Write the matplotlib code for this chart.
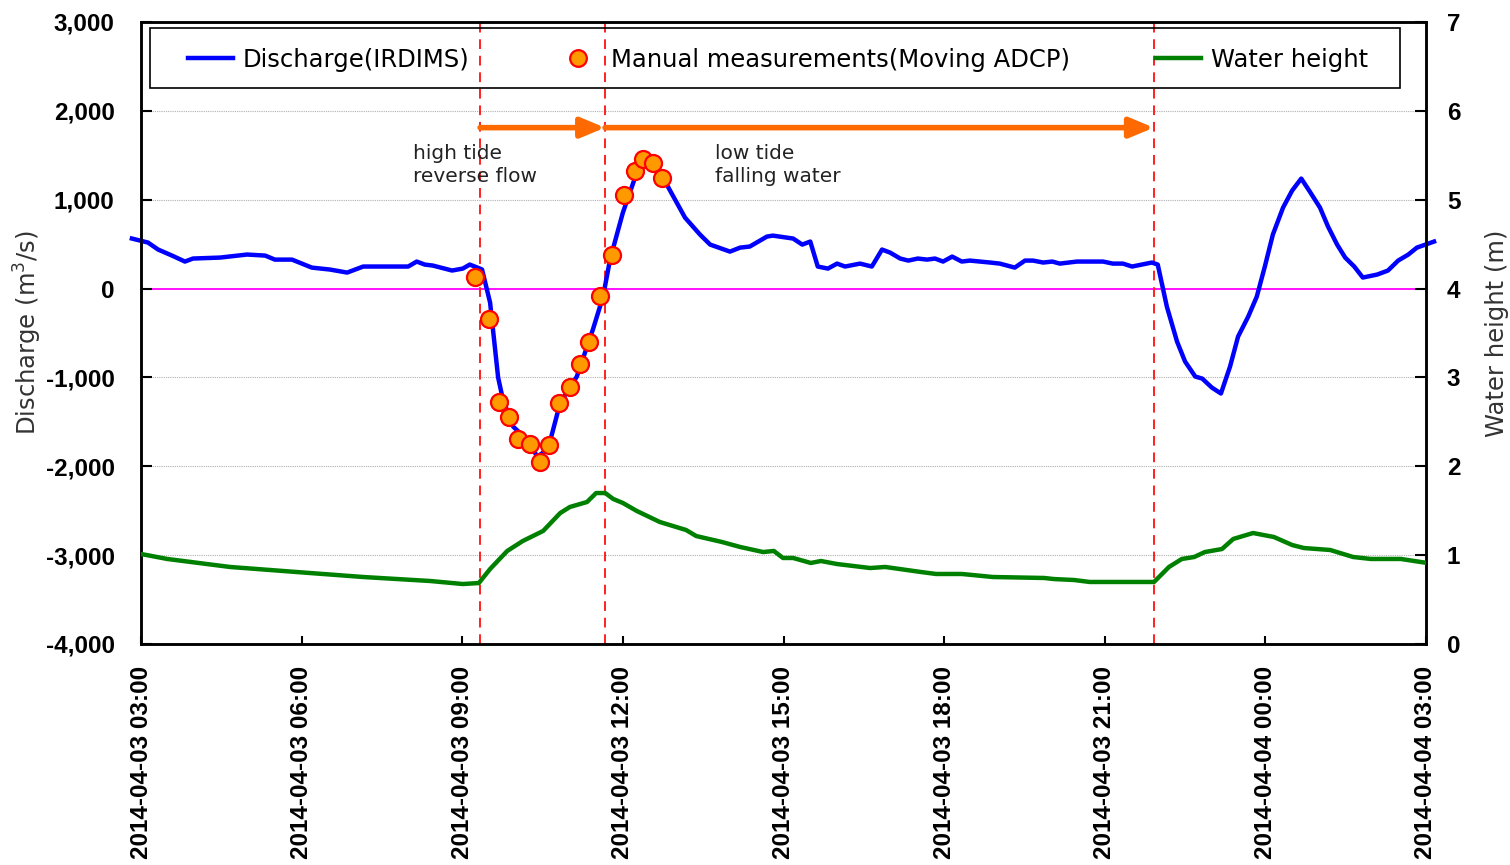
import datetime as dt
import matplotlib
matplotlib.use("Agg")
import matplotlib.pyplot as plt
import matplotlib.dates as mdates
from matplotlib.lines import Line2D
from matplotlib.patches import Rectangle
from matplotlib.ticker import FuncFormatter, MultipleLocator

# ---------------- data (hours since 2014-04-03 00:00) ----------------
q_hours = [2.83, 3.13, 3.32, 3.58, 3.82, 3.97, 4.48, 4.98, 5.32, 5.50, 5.82, 6.19, 6.53, 6.85,
           7.15, 7.46, 7.99, 8.15, 8.30, 8.45, 8.81, 9.01, 9.14, 9.33, 9.37, 9.52, 9.67, 9.76,
           9.95, 10.21, 10.40, 10.60, 10.83, 11.14, 11.44, 11.63, 11.76, 12.00, 12.26, 12.38,
           12.56, 12.75, 12.84, 13.16, 13.44, 13.63, 14.00, 14.19, 14.37, 14.69, 14.80, 15.18,
           15.35, 15.50, 15.64, 15.83, 16.00, 16.15, 16.43, 16.65, 16.84, 16.99, 17.18, 17.33,
           17.51, 17.68, 17.83, 17.98, 18.15, 18.33, 18.48, 18.86, 19.04, 19.32, 19.51, 19.66,
           19.85, 20.02, 20.16, 20.48, 20.97, 21.15, 21.34, 21.51, 21.88, 21.99, 22.16, 22.35,
           22.50, 22.69, 22.82, 23.00, 23.17, 23.34, 23.49, 23.68, 23.84, 23.99, 24.14, 24.33,
           24.50, 24.67, 24.83, 25.02, 25.17, 25.34, 25.49, 25.66, 25.82, 26.09, 26.29, 26.48,
           26.67, 26.83, 27.15]
discharge = [563, 518, 439, 371, 304, 338, 349, 383, 371, 326, 326, 236, 214, 180,
             248, 248, 248, 304, 270, 259, 203, 225, 270, 225, 214, -158, -1001, -1249,
             -1553, -1699, -1890, -1811, -1283, -990, -461, -90, 326, 855, 1305, 1429,
             1418, 1226, 1148, 799, 608, 495, 416, 461, 473, 585, 596, 563,
             495, 529, 248, 225, 281, 248, 281, 248, 439, 405, 338, 315,
             338, 326, 338, 304, 360, 304, 315, 293, 281, 236, 315, 315,
             293, 304, 281, 304, 304, 281, 281, 248, 293, 270, -203, -596,
             -821, -990, -1013, -1114, -1181, -878, -540, -315, -90, 248, 608, 911,
             1103, 1238, 1091, 911, 698, 495, 349, 248, 124, 158, 203, 315,
             383, 461, 529]

m_hours = [9.24, 9.50, 9.69, 9.87, 10.04, 10.27, 10.45, 10.62, 10.81, 11.01, 11.20, 11.37,
           11.57, 11.80, 12.02, 12.23, 12.38, 12.56, 12.73]
manual = [135, -338, -1271, -1440, -1688, -1744, -1947, -1755, -1283, -1103, -844, -596,
          -79, 383, 1058, 1328, 1463, 1418, 1249]

w_hours = [3.00, 3.49, 4.66, 5.91, 7.15, 8.40, 9.01, 9.31, 9.52, 9.84, 10.13, 10.51, 10.83,
           11.01, 11.33, 11.50, 11.67, 11.82, 12.00, 12.26, 12.69, 13.18, 13.37, 13.85, 14.19,
           14.62, 14.82, 14.99, 15.18, 15.51, 15.70, 16.00, 16.62, 16.90, 17.57, 17.85, 18.33,
           18.91, 19.87, 20.05, 20.43, 20.72, 21.92, 22.20, 22.44, 22.67, 22.87, 23.19, 23.40,
           23.77, 24.16, 24.50, 24.72, 25.21, 25.64, 25.97, 26.53, 27.02]
water_height = [1.013, 0.957, 0.867, 0.810, 0.754, 0.709, 0.675, 0.686, 0.844, 1.047, 1.159,
                1.272, 1.474, 1.542, 1.598, 1.699, 1.699, 1.632, 1.587, 1.497, 1.373, 1.283,
                1.215, 1.148, 1.092, 1.035, 1.047, 0.968, 0.968, 0.912, 0.934, 0.900, 0.855,
                0.867, 0.810, 0.788, 0.788, 0.754, 0.743, 0.731, 0.720, 0.698, 0.698, 0.867,
                0.957, 0.979, 1.035, 1.069, 1.182, 1.249, 1.204, 1.114, 1.080, 1.058, 0.979,
                0.957, 0.957, 0.912]

event_hours = [9.333, 11.667, 21.917]       # dashed vertical lines
arrow_level = 1811                          # discharge level of the arrows
labels = ["Discharge(IRDIMS)", "Manual measurements(Moving ADCP)", "Water height"]

base = dt.datetime(2014, 4, 3)
def to_num(hours):
    return [mdates.date2num(base + dt.timedelta(hours=h)) for h in hours]

qx, mx, wx, ex = to_num(q_hours), to_num(m_hours), to_num(w_hours), to_num(event_hours)
x0, x1 = to_num([3, 27])

# ---------------- figure ----------------
plt.rcParams['font.family'] = ['Liberation Sans', 'DejaVu Sans']
fig = plt.figure(figsize=(15.1, 8.65), dpi=100)
ax = fig.add_axes([141/1510, 1-644/865, (1426-141)/1510, (644-22)/865])
ax2 = ax.twinx()

ax.set_xlim(x0, x1)
ax.set_ylim(-4000, 3000)
ax2.set_ylim(0, 7)

# grid
for v in [-3000, -2000, -1000, 1000, 2000]:
    ax.axhline(v, color='#b0b0b0', lw=0.8, ls=(0, (1, 1)), zorder=0)
ax.axhline(0, color='#ff00ff', lw=1.3, zorder=1)

# event lines
for e in ex:
    ax.axvline(e, color='#ff2020', lw=1.4, ls=(0, (5, 3.5)), zorder=2)

# discharge line
ax.plot(qx, discharge, color='#0000ff', lw=3.2, zorder=4, clip_on=False)
ax.scatter(mx, manual, s=150, facecolor='#ff9900', edgecolor='#ff0000', lw=1.6, zorder=5)

# water height
ax2.plot(wx, water_height, color='#008000', lw=3.2, zorder=4)

# arrows
arrow_kw = dict(arrowstyle='-|>,head_length=0.6,head_width=0.25', color='#ff6a00',
                lw=4, mutation_scale=24, shrinkA=0, shrinkB=0)
ax.annotate('', xy=(ex[1], arrow_level), xytext=(ex[0], arrow_level), arrowprops=arrow_kw)
ax.annotate('', xy=(ex[2], arrow_level), xytext=(ex[1], arrow_level), arrowprops=arrow_kw)

txt_kw = dict(fontsize=14.5, color='#222222', family='DejaVu Sans', va='top', ha='left',
              linespacing=1.3)
ax.text(to_num([8.08])[0], 1630, "high tide\nreverse flow", **txt_kw)
ax.text(to_num([13.72])[0], 1630, "low tide\nfalling water", **txt_kw)

# axes styling
for a in (ax, ax2):
    for s in a.spines.values():
        s.set_linewidth(1.8)
        s.set_color('black')

ax.xaxis.set_major_locator(mdates.HourLocator(byhour=[0, 3, 6, 9, 12, 15, 18, 21]))
ax.xaxis.set_major_formatter(mdates.DateFormatter('%Y-%m-%d %H:%M'))
ax.yaxis.set_major_locator(MultipleLocator(1000))
ax.yaxis.set_major_formatter(FuncFormatter(lambda v, p: f"{int(v):,}"))
ax2.yaxis.set_major_locator(MultipleLocator(1))

ax.tick_params(axis='x', direction='in', length=6, width=1.5, pad=16, labelsize=17.5,
               labelrotation=90)
ax.tick_params(axis='y', direction='in', length=8, width=1.5, pad=19, labelsize=17.5)
ax2.tick_params(axis='y', direction='in', length=8, width=1.5, pad=15, labelsize=17.5)
for lab in ax.get_xticklabels() + ax.get_yticklabels() + ax2.get_yticklabels():
    lab.set_fontweight('bold')

ax.set_ylabel("Discharge (m$^3$/s)", fontsize=17.5, color='#333333', family='DejaVu Sans',
              labelpad=1)
ax2.set_ylabel("Water height (m)", fontsize=17.5, color='#333333', family='DejaVu Sans',
               labelpad=18)

# legend (frame drawn separately for exact placement)
W, H = 1426 - 141, 644 - 22
def ax_x(px):
    return (px - 141) / W
def ax_y(py):
    return 1 - (py - 22) / H

ax2.add_patch(Rectangle((ax_x(150), ax_y(88)), ax_x(1400) - ax_x(150), ax_y(28) - ax_y(88),
                        transform=ax2.transAxes, fill=False, edgecolor='black', lw=1.2,
                        zorder=6, clip_on=False))
handles = [Line2D([], [], color='#0000ff', lw=3.2),
           Line2D([], [], ls='none', marker='o', markersize=12, markerfacecolor='#ff9900',
                  markeredgecolor='#ff0000', markeredgewidth=1.6),
           Line2D([], [], color='#008000', lw=3.2)]
leg = ax2.legend(handles, labels, ncol=3, mode='expand',
                 bbox_to_anchor=(ax_x(188), ax_y(90), ax_x(1368) - ax_x(188), ax_y(30) - ax_y(90)),
                 loc='center', borderaxespad=0, borderpad=0,
                 prop={'family': 'DejaVu Sans', 'size': 17.5},
                 handlelength=1.85, handletextpad=0.4, frameon=False)

fig.savefig('out.png', dpi=100)
